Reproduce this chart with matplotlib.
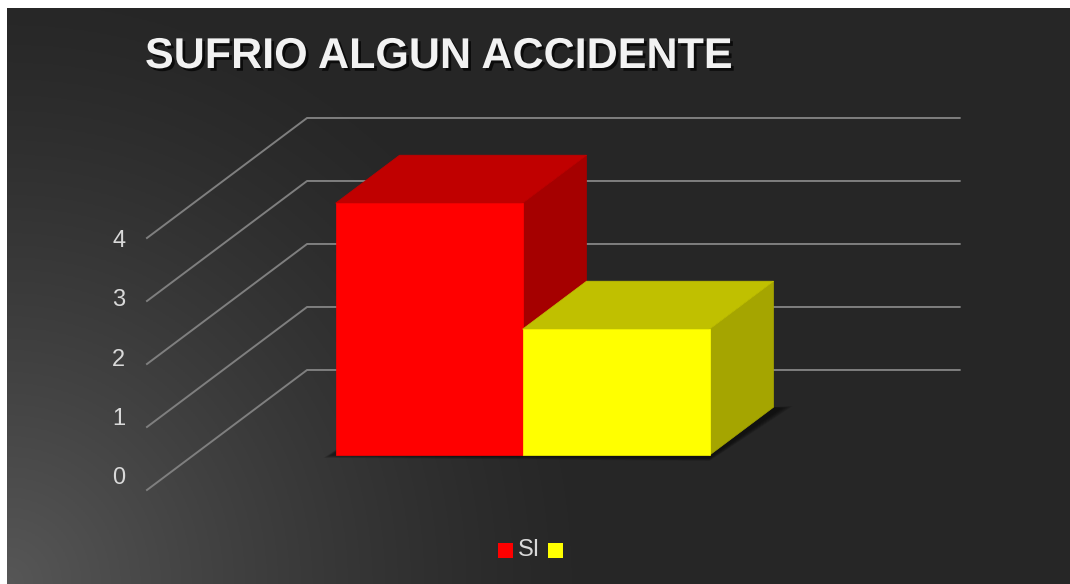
import numpy as np
import matplotlib
matplotlib.use("Agg")
import matplotlib.pyplot as plt
import matplotlib.patheffects as pe
from matplotlib.patches import Polygon, Rectangle

# ---- datos ----
categorias = ["SI", ""]
valores = [4, 2]
colores_frente = ["#ff0000", "#ffff00"]
colores_techo = ["#c00000", "#c0c000"]
colores_lado = ["#a50000", "#a5a500"]
ticks_y = [0, 1, 2, 3, 4]
titulo = "SUFRIO ALGUN ACCIDENTE"

plt.rcParams['font.family'] = ['Liberation Sans', 'DejaVu Sans']

# ---- proyeccion oblicua (profundidad d en [0, 1]) ----
DX, DY = 0.856, 1.905
D0, D1 = 0.29, 0.69          # profundidad de las barras
X0 = -0.76                    # pared izquierda
X1 = len(categorias) + 0.73   # extremo de la pared del fondo


def proy(x, y, d):
    return x + d * DX, y + d * DY


fig = plt.figure(figsize=(10.7, 5.84), dpi=100)
fig.patch.set_facecolor("white")

# fondo con degradado (esquina inferior izquierda mas clara)
bg = fig.add_axes([7 / 1070, 0, 1063 / 1070, 576 / 584])
bg.set_axis_off()
h, w = 288, 532
yy, xx = np.mgrid[0:h, 0:w]
r = np.sqrt((xx / w * 1.9) ** 2 + ((h - 1 - yy) / h) ** 2)
t = np.clip(r / 1.05, 0, 1)
g = 0.15 + (0.34 - 0.15) * (1 - t) ** 1.3
bg.imshow(np.dstack([g, g, g]), extent=[0, 1, 0, 1], aspect="auto", origin="upper")
bg.set_xlim(0, 1)
bg.set_ylim(0, 1)

ax = fig.add_axes([0, 0, 1, 1])
ax.set_axis_off()
ax.patch.set_alpha(0)
ax.set_xlim(-289.1 / 187, (1070 - 289.1) / 187)
ax.set_ylim((490 - 584) / 63, 490 / 63)

# ---- cuadricula: pared izquierda y pared del fondo ----
gris = "#7f7f7f"
for v in ticks_y:
    xa, ya = proy(X0, v, 0)
    xb, yb = proy(X0, v, 1)
    xc, yc = proy(X1, v, 1)
    ax.plot([xa, xb, xc], [ya, yb, yc], color=gris, lw=1.4, zorder=1)
    ax.text(X0 - 0.15, 0.19 + 0.94 * v, str(v), color="#d9d9d9", fontsize=17,
            ha="center", va="center", zorder=2)

# ---- sombras de las barras ----
n = len(valores)
for k in range(5):
    e = 0.01 * (k + 1)
    pts = [proy(-0.03 - e, -0.03 - e, D0 + 0.02), proy(n, -0.04 - e, D0),
           proy(n + 0.03 + e, -0.03, D1 + e * 0.5), proy(n, 0, D1), proy(0, 0, D1)]
    ax.add_patch(Polygon(pts, closed=True, facecolor="black", edgecolor="none",
                         alpha=0.13, zorder=2))

# ---- barras 3D ----
for i, (v, cf, ct, cl) in enumerate(zip(valores, colores_frente, colores_techo, colores_lado)):
    x_a, x_b = i, i + 1
    techo = [proy(x_a, v, D0), proy(x_b, v, D0), proy(x_b, v, D1), proy(x_a, v, D1)]
    lado = [proy(x_b, 0, D0), proy(x_b, 0, D1), proy(x_b, v, D1), proy(x_b, v, D0)]
    fx, fy = proy(x_a, 0, D0)
    ax.add_patch(Polygon(lado, closed=True, facecolor=cl, edgecolor=cl, lw=0.5, zorder=3 + i))
    ax.add_patch(Polygon(techo, closed=True, facecolor=ct, edgecolor=ct, lw=0.5, zorder=3 + i))
    ax.add_patch(Rectangle((fx, fy), 1, v, facecolor=cf, edgecolor=cf, lw=0.5, zorder=3 + i))

# ---- titulo ----
fig.text(145 / 1070, 1 - 57 / 584, titulo, color="#f2f2f2", fontsize=31,
         fontweight="bold", ha="left", va="center",
         path_effects=[pe.withSimplePatchShadow(offset=(2, -2), shadow_rgbFace="black", alpha=0.7)])

# ---- leyenda ----
leg_y = 1 - 550 / 584
fig.patches.append(Rectangle((498 / 1070, leg_y - 7.5 / 584), 15 / 1070, 15 / 584,
                             transform=fig.transFigure, facecolor=colores_frente[0],
                             edgecolor="none", figure=fig))
fig.text(518 / 1070, leg_y, categorias[0], color="#d9d9d9", fontsize=17,
         ha="left", va="center")
fig.patches.append(Rectangle((548 / 1070, leg_y - 7.5 / 584), 15 / 1070, 15 / 584,
                             transform=fig.transFigure, facecolor=colores_frente[1],
                             edgecolor="none", figure=fig))

fig.savefig("out.png", dpi=100)
